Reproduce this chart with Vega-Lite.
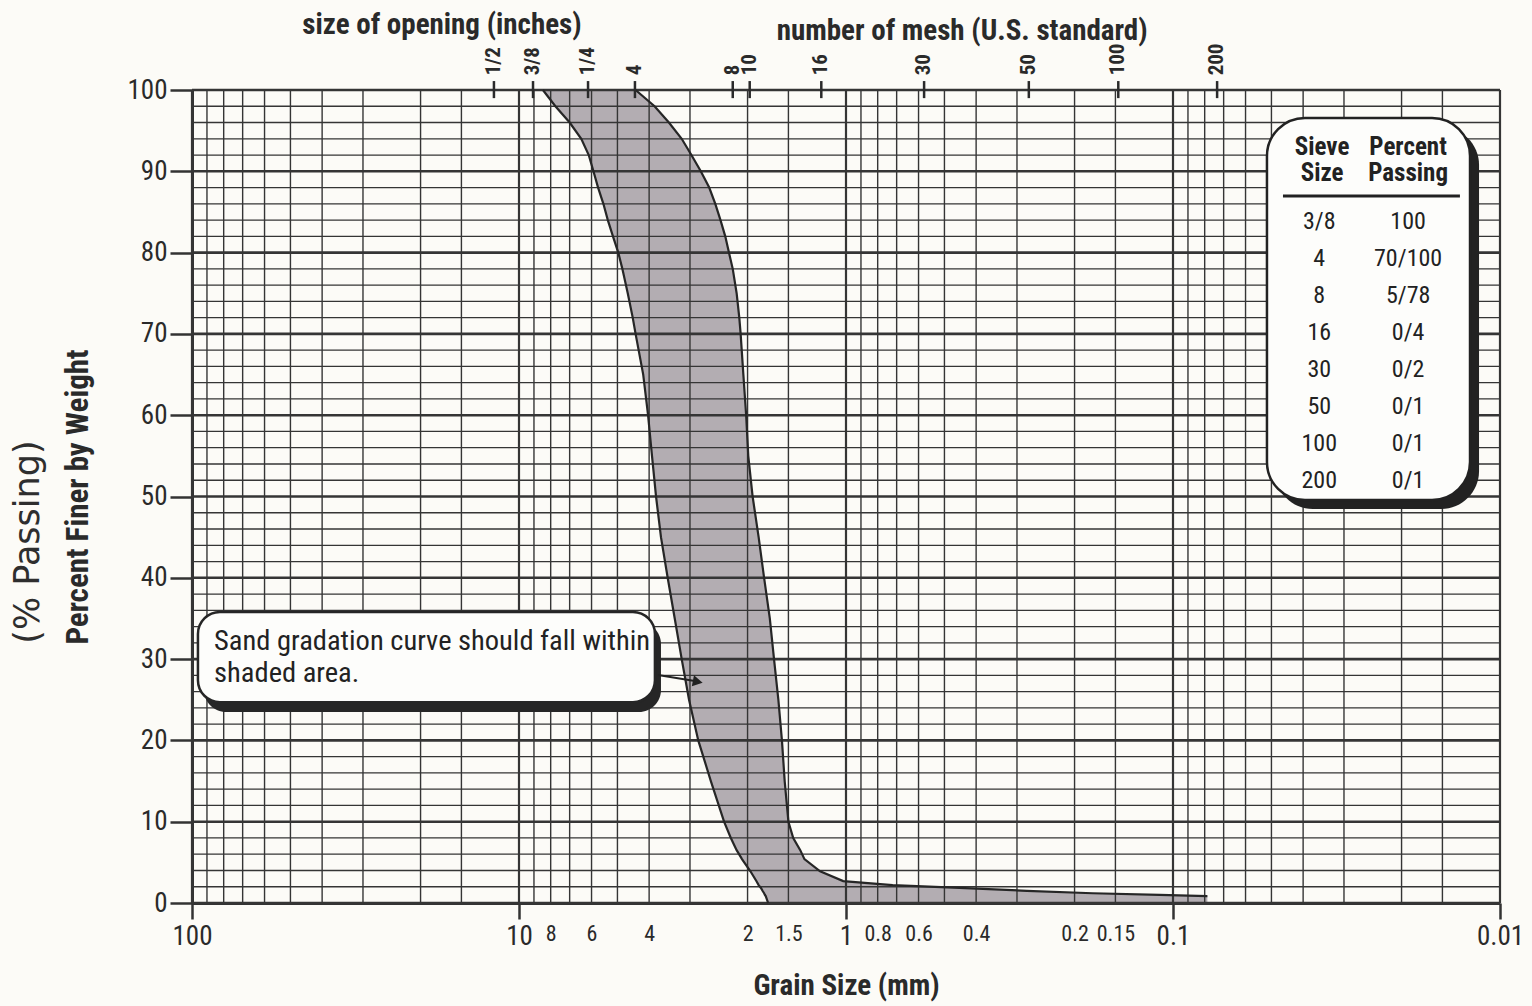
{
  "$schema": "https://vega.github.io/schema/vega-lite/v6.json",
  "width": 1308,
  "height": 813,
  "autosize": {"type": "none"},
  "padding": {"left": 192, "top": 90, "right": 32, "bottom": 103},
  "background": "#fcfbf7",
  "config": {
    "view": {"stroke": null},
    "font": "Roboto Condensed, Liberation Sans Narrow, DejaVu Sans Condensed, Roboto, sans-serif"
  },
  "datasets": {
    "one": [{}],
    "band": [
      {"pct": 100, "coarse": 8.45, "fine": 4.40},
      {"pct": 98, "coarse": 7.74, "fine": 3.85},
      {"pct": 96, "coarse": 7.00, "fine": 3.48},
      {"pct": 94, "coarse": 6.45, "fine": 3.18},
      {"pct": 92, "coarse": 6.12, "fine": 2.97},
      {"pct": 90, "coarse": 5.92, "fine": 2.78},
      {"pct": 88, "coarse": 5.73, "fine": 2.62},
      {"pct": 86, "coarse": 5.52, "fine": 2.51},
      {"pct": 84, "coarse": 5.35, "fine": 2.42},
      {"pct": 82, "coarse": 5.16, "fine": 2.34},
      {"pct": 80, "coarse": 4.97, "fine": 2.28},
      {"pct": 78, "coarse": 4.83, "fine": 2.22},
      {"pct": 75, "coarse": 4.65, "fine": 2.16},
      {"pct": 72, "coarse": 4.49, "fine": 2.12},
      {"pct": 70, "coarse": 4.40, "fine": 2.10},
      {"pct": 65, "coarse": 4.17, "fine": 2.06},
      {"pct": 60, "coarse": 4.03, "fine": 2.02},
      {"pct": 55, "coarse": 3.92, "fine": 1.99},
      {"pct": 50, "coarse": 3.81, "fine": 1.93},
      {"pct": 45, "coarse": 3.68, "fine": 1.85},
      {"pct": 40, "coarse": 3.51, "fine": 1.78},
      {"pct": 35, "coarse": 3.34, "fine": 1.71},
      {"pct": 30, "coarse": 3.18, "fine": 1.66},
      {"pct": 25, "coarse": 3.02, "fine": 1.61},
      {"pct": 20, "coarse": 2.83, "fine": 1.57},
      {"pct": 15, "coarse": 2.59, "fine": 1.54},
      {"pct": 10, "coarse": 2.36, "fine": 1.50},
      {"pct": 8, "coarse": 2.25, "fine": 1.45},
      {"pct": 6.5, "coarse": 2.16, "fine": 1.38},
      {"pct": 5.4, "coarse": 2.08, "fine": 1.34},
      {"pct": 3.9, "coarse": 1.96, "fine": 1.20},
      {"pct": 2.7, "coarse": 1.88, "fine": 1.02},
      {"pct": 2.2, "coarse": 1.85, "fine": 0.72},
      {"pct": 1.85, "coarse": 1.82, "fine": 0.45},
      {"pct": 1.5, "coarse": 1.80, "fine": 0.28},
      {"pct": 1.2, "coarse": 1.78, "fine": 0.176},
      {"pct": 1.0, "coarse": 1.77, "fine": 0.11},
      {"pct": 0.85, "coarse": 1.76, "fine": 0.0785},
      {"pct": 0, "coarse": 1.73, "fine": 0.0785}
    ],
    "gridx": [
      {"v": 0.01}, {"v": 0.015}, {"v": 0.02}, {"v": 0.03}, {"v": 0.04}, {"v": 0.05}, {"v": 0.06}, {"v": 0.07}, {"v": 0.08}, {"v": 0.09},
      {"v": 0.1}, {"v": 0.15}, {"v": 0.2}, {"v": 0.3}, {"v": 0.4}, {"v": 0.5}, {"v": 0.6}, {"v": 0.7}, {"v": 0.8}, {"v": 0.9},
      {"v": 1}, {"v": 1.5}, {"v": 2}, {"v": 3}, {"v": 4}, {"v": 5}, {"v": 6}, {"v": 7}, {"v": 8}, {"v": 9},
      {"v": 10}, {"v": 15}, {"v": 20}, {"v": 30}, {"v": 40}, {"v": 50}, {"v": 60}, {"v": 70}, {"v": 80}, {"v": 90},
      {"v": 100}
    ],
    "gridy": [
      {"v": 0}, {"v": 2}, {"v": 4}, {"v": 6}, {"v": 8}, {"v": 10}, {"v": 12}, {"v": 14}, {"v": 16}, {"v": 18},
      {"v": 20}, {"v": 22}, {"v": 24}, {"v": 26}, {"v": 28}, {"v": 30}, {"v": 32}, {"v": 34}, {"v": 36}, {"v": 38},
      {"v": 40}, {"v": 42}, {"v": 44}, {"v": 46}, {"v": 48}, {"v": 50}, {"v": 52}, {"v": 54}, {"v": 56}, {"v": 58},
      {"v": 60}, {"v": 62}, {"v": 64}, {"v": 66}, {"v": 68}, {"v": 70}, {"v": 72}, {"v": 74}, {"v": 76}, {"v": 78},
      {"v": 80}, {"v": 82}, {"v": 84}, {"v": 86}, {"v": 88}, {"v": 90}, {"v": 92}, {"v": 94}, {"v": 96}, {"v": 98},
      {"v": 100}
    ],
    "topticks": [
      {"mm": 11.93, "label": "1/2"},
      {"mm": 9.06, "label": "3/8"},
      {"mm": 6.15, "label": "1/4"},
      {"mm": 4.42, "label": "4"},
      {"mm": 2.22, "label": "8"},
      {"mm": 1.97, "label": "10"},
      {"mm": 1.19, "label": "16"},
      {"mm": 0.577, "label": "30"},
      {"mm": 0.276, "label": "50"},
      {"mm": 0.147, "label": "100"},
      {"mm": 0.0733, "label": "200"}
    ],
    "table": [
      {"sieve": "3/8", "passing": "100"},
      {"sieve": "4", "passing": "70/100"},
      {"sieve": "8", "passing": "5/78"},
      {"sieve": "16", "passing": "0/4"},
      {"sieve": "30", "passing": "0/2"},
      {"sieve": "50", "passing": "0/1"},
      {"sieve": "100", "passing": "0/1"},
      {"sieve": "200", "passing": "0/1"}
    ]
  },
  "layer": [
    {
      "data": {"name": "band"},
      "mark": {"type": "area", "orient": "horizontal", "fill": "#b3adb2"},
      "encoding": {
        "y": {"field": "pct", "type": "quantitative", "scale": {"domain": [0, 100], "nice": false},
          "axis": {
            "values": [0, 10, 20, 30, 40, 50, 60, 70, 80, 90, 100],
            "title": "Percent Finer by Weight",
            "grid": false,
            "domain": true, "domainWidth": 3, "domainColor": "#333",
            "tickSize": 22, "tickWidth": 2.5, "tickColor": "#333",
            "labelFontSize": 27, "labelColor": "#2a2a2a", "labelPadding": 3,
            "titleFontSize": 31, "titleFontWeight": "bold", "titlePadding": 33, "titleColor": "#2a2a2a"
          }
        },
        "x": {"field": "coarse", "type": "quantitative", "scale": {"type": "log", "domain": [0.01, 100], "reverse": true, "nice": false},
          "axis": {
            "orient": "bottom",
            "values": [100, 10, 8, 6, 4, 2, 1.5, 1, 0.8, 0.6, 0.4, 0.2, 0.15, 0.1, 0.01],
            "labelExpr": "'' + datum.value",
            "title": "Grain Size (mm)",
            "grid": false,
            "domain": true, "domainWidth": 3, "domainColor": "#333",
            "tickSize": 16, "tickWidth": 2.5, "tickColor": "#333",
            "tickOpacity": {"condition": {"test": "indexof([100, 10, 1, 0.1, 0.01], datum.value) >= 0", "value": 1}, "value": 0},
            "labelFontSize": {"condition": {"test": "indexof([100, 10, 1, 0.1, 0.01], datum.value) >= 0", "value": 27}, "value": 22},
            "labelPadding": 4, "labelColor": "#2a2a2a",
            "labelFlush": false, "labelOverlap": false, "labelBound": false,
            "titleFontSize": 29, "titleFontWeight": "bold", "titlePadding": 22, "titleColor": "#2a2a2a"
          }
        },
        "x2": {"field": "fine"}
      }
    },
    {
      "data": {"name": "gridx"},
      "mark": {"type": "rule", "color": "#353535"},
      "encoding": {
        "x": {"field": "v", "type": "quantitative"},
        "strokeWidth": {"condition": {"test": "indexof([100, 10, 1, 0.1, 0.01], datum.v) >= 0", "value": 2.2}, "value": 1.4}
      }
    },
    {
      "data": {"name": "gridy"},
      "mark": {"type": "rule", "color": "#353535"},
      "encoding": {
        "y": {"field": "v", "type": "quantitative"},
        "strokeWidth": {"condition": {"test": "datum.v % 10 === 0", "value": 2.6}, "value": 1.3}
      }
    },
    {
      "data": {"name": "band"},
      "mark": {"type": "line", "color": "#262626", "strokeWidth": 2.2},
      "encoding": {
        "x": {"field": "coarse", "type": "quantitative"},
        "y": {"field": "pct", "type": "quantitative"},
        "order": {"field": "pct"}
      }
    },
    {
      "data": {"name": "band"},
      "transform": [{"filter": "datum.pct >= 0.85"}],
      "mark": {"type": "line", "color": "#262626", "strokeWidth": 2.2},
      "encoding": {
        "x": {"field": "fine", "type": "quantitative"},
        "y": {"field": "pct", "type": "quantitative"},
        "order": {"field": "pct"}
      }
    },
    {
      "data": {"name": "topticks"},
      "mark": {"type": "rule", "color": "#2a2a2a", "strokeWidth": 2.5},
      "encoding": {
        "x": {"field": "mm", "type": "quantitative"},
        "y": {"datum": 99},
        "y2": {"datum": 101.1}
      }
    },
    {
      "data": {"name": "topticks"},
      "mark": {"type": "text", "angle": 270, "align": "left", "baseline": "middle", "fontSize": 21, "fontWeight": "bold", "color": "#2a2a2a"},
      "encoding": {
        "x": {"field": "mm", "type": "quantitative"},
        "y": {"datum": 101.8},
        "text": {"field": "label"}
      }
    },
    {
      "data": {"name": "one"},
      "mark": {"type": "text", "text": "size of opening (inches)", "fontSize": 29, "fontWeight": "bold", "color": "#2a2a2a", "align": "center", "baseline": "middle"},
      "encoding": {"x": {"datum": 17.2}, "y": {"datum": 108.0}}
    },
    {
      "data": {"name": "one"},
      "mark": {"type": "text", "text": "number of mesh (U.S. standard)", "fontSize": 29, "fontWeight": "bold", "color": "#2a2a2a", "align": "center", "baseline": "middle"},
      "encoding": {"x": {"datum": 0.4415}, "y": {"datum": 107.3}}
    },
    {
      "data": {"name": "one"},
      "mark": {"type": "text", "text": "(% Passing)", "fontSize": 35, "font": "DejaVu Sans", "color": "#2e2e2e", "angle": 270, "align": "center", "baseline": "middle"},
      "encoding": {"x": {"datum": 317}, "y": {"datum": 44.4}}
    },
    {
      "data": {"name": "one"},
      "mark": {"type": "rect", "cornerRadius": 22, "fill": "#262626"},
      "encoding": {"x": {"datum": 91.9}, "x2": {"datum": 3.68}, "y": {"datum": 34.56}, "y2": {"datum": 23.49}}
    },
    {
      "data": {"name": "one"},
      "mark": {"type": "rect", "cornerRadius": 22, "fill": "#fdfdfb", "stroke": "#262626", "strokeWidth": 2.5},
      "encoding": {"x": {"datum": 95.9}, "x2": {"datum": 3.84}, "y": {"datum": 35.8}, "y2": {"datum": 24.7}}
    },
    {
      "data": {"name": "one"},
      "mark": {"type": "text", "text": ["Sand gradation curve should fall within", "shaded area."], "fontSize": 28.5, "lineHeight": 32, "color": "#222", "align": "left", "baseline": "middle"},
      "encoding": {"x": {"datum": 85.6}, "y": {"datum": 32.23}}
    },
    {
      "data": {"name": "one"},
      "mark": {"type": "rule", "color": "#222", "strokeWidth": 2},
      "encoding": {"x": {"datum": 3.76}, "x2": {"datum": 2.9}, "y": {"datum": 28.04}, "y2": {"datum": 27.3}}
    },
    {
      "data": {"name": "one"},
      "mark": {"type": "point", "shape": "triangle-right", "filled": true, "color": "#222", "opacity": 1, "size": 130, "angle": 11},
      "encoding": {"x": {"datum": 2.84}, "y": {"datum": 27.22}}
    },
    {
      "data": {"name": "one"},
      "mark": {"type": "rect", "cornerRadius": 38, "fill": "#222"},
      "encoding": {"x": {"datum": 0.0488}, "x2": {"datum": 0.01159}, "y": {"datum": 95.45}, "y2": {"datum": 48.46}}
    },
    {
      "data": {"name": "one"},
      "mark": {"type": "rect", "cornerRadius": 38, "fill": "#fdfdfb", "stroke": "#222", "strokeWidth": 2.5},
      "encoding": {"x": {"datum": 0.0516}, "x2": {"datum": 0.01235}, "y": {"datum": 96.56}, "y2": {"datum": 49.57}}
    },
    {
      "data": {"name": "one"},
      "mark": {"type": "text", "text": ["Sieve", "Size"], "fontSize": 25, "lineHeight": 26, "fontWeight": "bold", "color": "#222", "align": "center", "baseline": "middle"},
      "encoding": {"x": {"datum": 0.0350}, "y": {"datum": 93.0}}
    },
    {
      "data": {"name": "one"},
      "mark": {"type": "text", "text": ["Percent", "Passing"], "fontSize": 25, "lineHeight": 26, "fontWeight": "bold", "color": "#222", "align": "center", "baseline": "middle"},
      "encoding": {"x": {"datum": 0.0191}, "y": {"datum": 93.0}}
    },
    {
      "data": {"name": "one"},
      "mark": {"type": "rule", "color": "#222", "strokeWidth": 3},
      "encoding": {"x": {"datum": 0.0461}, "x2": {"datum": 0.01326}, "y": {"datum": 86.96}}
    },
    {
      "data": {"name": "table"},
      "mark": {"type": "text", "fontSize": 24, "color": "#222", "align": "center", "baseline": "middle"},
      "encoding": {
        "x": {"datum": 0.0357},
        "y": {"datum": 83.76},
        "yOffset": {"field": "sieve", "type": "ordinal", "sort": null, "scale": {"type": "point", "range": [0, 259], "padding": 0}},
        "text": {"field": "sieve"}
      }
    },
    {
      "data": {"name": "table"},
      "mark": {"type": "text", "fontSize": 24, "color": "#222", "align": "center", "baseline": "middle"},
      "encoding": {
        "x": {"datum": 0.0191},
        "y": {"datum": 83.76},
        "yOffset": {"field": "sieve", "type": "ordinal", "sort": null, "scale": {"type": "point", "range": [0, 259], "padding": 0}},
        "text": {"field": "passing"}
      }
    }
  ]
}
